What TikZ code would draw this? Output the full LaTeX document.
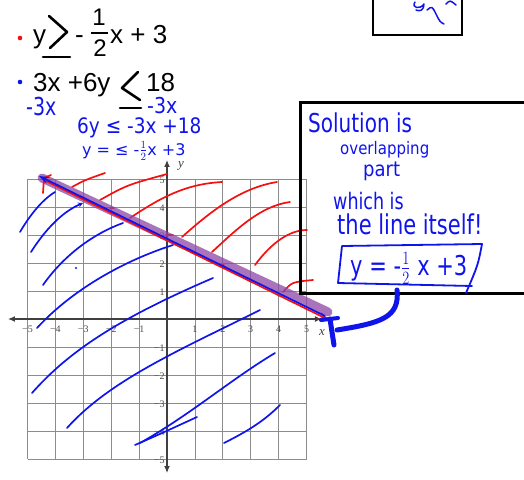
\documentclass[tikz,border=0pt]{standalone}
\usepackage{fontspec}
\usepackage{graphicx}
\setmainfont{Liberation Sans}
\newfontfamily\hand{DejaVu Sans}
\newfontfamily\tickf{Liberation Serif}
\newcommand\talltext[1]{\scalebox{1}[1.3]{#1}}
\newcommand\semitall[1]{\scalebox{1}[1.15]{#1}}
\usetikzlibrary{arrows.meta}
\definecolor{ink}{RGB}{15,20,235}
\definecolor{rink}{RGB}{245,15,15}
\definecolor{purp}{RGB}{140,70,165}
\begin{document}
\begin{tikzpicture}[x=1pt,y=-1pt,
  gridline/.style={draw=black!45, line width=0.8pt},
  axis/.style={draw=black!75, line width=1.2pt},
  redhatch/.style={draw=rink, line width=1.7pt, line cap=round},
  bluehatch/.style={draw=ink, line width=1.7pt, line cap=round},
  ticklab/.style={font=\tickf\fontsize{10}{10}\selectfont, text=black!70, inner sep=0},
  axlab/.style={font=\tickf\itshape\fontsize{13}{13}\selectfont, text=black!75, inner sep=0},
  head/.style={font=\fontsize{26}{26}\selectfont, inner sep=0, anchor=base west},
  handtxt/.style={text=ink, inner sep=0, anchor=base west},
  handstroke/.style={line width=2.6pt, line cap=round, line join=round},
  inkstroke/.style={draw=ink, line width=1.8pt, line cap=round, line join=round}
]
\useasboundingbox (0,0) rectangle (524,479);

% ---------- graph ----------
\begin{scope}[shift={(167pt,-319pt)}, x=27.9pt, y=28pt]
  \foreach \i in {-5,...,5} {
    \draw[gridline] (\i,-5) -- (\i,5);
    \draw[gridline] (-5,\i) -- (5,\i);
  }
  \draw[axis, {Latex[length=7pt,width=6pt]}-{Latex[length=7pt,width=6pt]}] (-5.7,0) -- (5.55,0);
  \draw[axis, {Latex[length=7pt,width=6pt]}-{Latex[length=7pt,width=6pt]}] (0,-5.5) -- (0,5.68);
  \foreach \i in {1,...,5} {
    \node[ticklab] (txp\i) at (\i,-0.38) {\i};
    \node[ticklab] (txm\i) at (-\i,-0.38) {−\i};
    \node[ticklab, anchor=east] (typ\i) at (-0.08,\i-0.06) {\i};
    \node[ticklab, anchor=east] (tym\i) at (-0.08,-\i-0.06) {−\i};
  }
  \node[axlab] (xlab) at (5.56,-0.5) {x};
  \node[axlab] (ylab) at (0.5,5.45) {y};
\end{scope}

% ---------- red hatching (above the line) ----------
\draw[redhatch] (72,187) .. controls (85,180) .. (105,173);
\draw[redhatch] (100,200) .. controls (127,185) .. (167,174);
\draw[redhatch] (130,218) .. controls (160,198) and (185,184) .. (222,182);
\draw[redhatch] (182,237) .. controls (210,212) and (240,188) .. (277,182);
\draw[redhatch] (212,252) .. controls (236,230) and (260,206) .. (290,202);
\draw[redhatch] (255,265) .. controls (272,242) and (290,230) .. (307,230);
\draw[redhatch] (283,292) .. controls (292,282) .. (313,280);
\draw[redhatch] (110,208) -- (114,208);
\draw[redhatch] (166,235) -- (173,235);
\draw[redhatch] (220,265) -- (224,265);

% ---------- blue hatching (below the line) ----------
\draw[bluehatch] (20,232) .. controls (30,215) and (42,200) .. (55,192);
\draw[bluehatch, -{Stealth[length=5pt,width=5pt]}] (31,252) .. controls (45,230) and (62,212) .. (83,203);
\draw[bluehatch] (43,285) .. controls (62,258) and (90,235) .. (123,223);
\fill[ink] (76,268) circle (1.2);
\draw[bluehatch] (37,328) .. controls (70,292) and (120,262) .. (173,245);
\draw[bluehatch] (32,393) .. controls (70,350) and (120,318) .. (213,278);
\draw[bluehatch] (67,428) .. controls (110,380) and (180,350) .. (260,310);
\draw[bluehatch] (140,443) .. controls (190,415) and (230,380) .. (275,353);
\draw[bluehatch] (135,445) .. controls (160,434) .. (197,417);
\draw[bluehatch] (224,443) .. controls (250,430) and (265,420) .. (280,405);

% ---------- the line ----------
\draw[purp, opacity=0.75, line width=9pt, line cap=round] (42,178) -- (328,312);
\draw[rink, line width=1.7pt, -{Stealth[length=10pt,width=7pt]}] (46,181) -- (329,320);
\draw[rink, line width=1.7pt, line cap=round, line join=round] (43,193) -- (44,178) -- (51,175);
\draw[ink, line width=1.7pt, {Stealth[length=10pt,width=7pt]}-] (39,176) -- (325,316);

% ---------- header ----------
\fill[rink] (20,38) circle (2.3);
\node[head] (h1y) at (33,43) {y};
\draw[handstroke] (49,16) -- (67,32) -- (50,48);
\draw[handstroke] (43,57) -- (70,57);
\node[head] (h1m) at (75,43) {-};
\node[font=\fontsize{24}{24}\selectfont, inner sep=0] (h1n) at (99,17) {1};
\draw[line width=1.6pt] (91,33) -- (108,33);
\node[font=\fontsize{24}{24}\selectfont, inner sep=0] (h1d) at (100,48) {2};
\node[head] (h1r) at (110,43) {x + 3};

\fill[ink] (20,82) circle (2.3);
\node[head] (h2l) at (33,91) {3x +6y};
\draw[handstroke] (138,72) -- (122,88) -- (140,100);
\draw[handstroke] (120,108) -- (141,108);
\node[head] (h2r) at (146,91) {18};

% ---------- blue working ----------
\node[handtxt, font=\hand\fontsize{19}{19}\selectfont] (w1) at (26,115) {\talltext{-3x}};
\node[handtxt, font=\hand\fontsize{19}{19}\selectfont] (w2) at (147,113) {\semitall{-3x}};
\node[handtxt, font=\hand\fontsize{18.5}{18.5}\selectfont] (w3) at (77,133) {\semitall{6y ≤ -3x +18}};
\node[handtxt, font=\hand\fontsize{16}{16}\selectfont] (w4) at (82,155) {y = ≤ -$\frac{1}{2}$x +3};

% ---------- solution box ----------
\draw[line width=3pt] (300,102) rectangle (527,293);
\node[handtxt, font=\hand\fontsize{20}{20}\selectfont] (s1) at (308,132) {\talltext{Solution is}};
\node[handtxt, font=\hand\fontsize{15}{15}\selectfont] (s2) at (340,154) {\semitall{overlapping}};
\node[handtxt, font=\hand\fontsize{18}{18}\selectfont] (s3) at (363,176) {\semitall{part}};
\node[handtxt, font=\hand\fontsize{17.5}{17.5}\selectfont] (s4) at (333,209) {\talltext{which is}};
\node[handtxt, font=\hand\fontsize{21}{21}\selectfont] (s5) at (337,234) {\talltext{the line itself!}};
\node[handtxt, font=\hand\fontsize{21}{21}\selectfont] (s6) at (350,275) {\talltext{y = -$\frac{1}{2}$ x +3}};
\draw[inkstroke] (482,244) -- (342,246) -- (338,283) -- (472,286);
\draw[inkstroke] (482,244) .. controls (478,265) .. (466,293);

% ---------- blue hook to the line end ----------
\draw[ink, line width=5pt, line cap=round] (397,290) .. controls (400,318) and (380,323) .. (337,330);
\draw[ink, line width=5pt, line cap=round] (330,319) -- (334,345);
\draw[ink, line width=4pt, line cap=round] (321,320) -- (338,318);

% ---------- top box ----------
\draw[line width=2.8pt] (373,-3) rectangle (462,35);
\draw[inkstroke, line width=1.5pt] (415,2) .. controls (411,8) and (420,10) .. (424,4) .. controls (424,10) and (420,12) .. (416,10);
\draw[inkstroke, line width=1.5pt] (427,10) .. controls (432,6) .. (436,14) .. controls (440,22) .. (444,24);
\draw[inkstroke, line width=1.5pt] (446,4) .. controls (450,0) .. (456,5);
\end{tikzpicture}
\end{document}
